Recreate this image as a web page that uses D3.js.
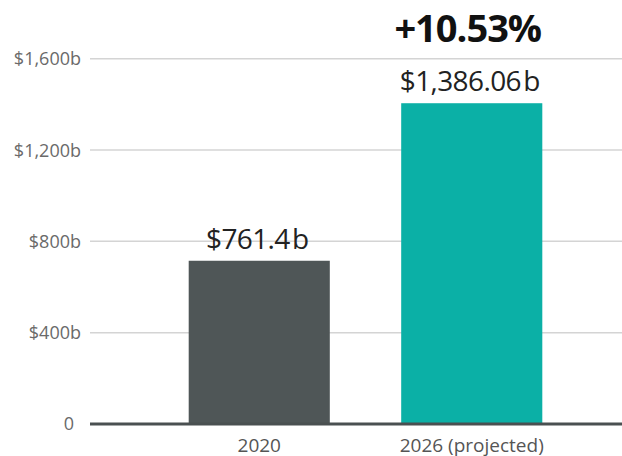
<!DOCTYPE html>
<html>
<head>
<meta charset="utf-8">
<script src="https://cdn.jsdelivr.net/npm/d3@7"></script>
<style>
  body { margin: 0; background: #fff; }
  svg { display: block; font-family: "Open Sans", sans-serif; }
</style>
</head>
<body>
<div id="chart"></div>
<script>
var categories = ["2020", "2026 (projected)"];
var barValues = [715, 1405];
var valueLabels = ["$761.4\u200ab", "$1,386.06\u200ab"];
var barColors = ["#4f5657", "#0bb0a6"];
var yTicks = [0, 400, 800, 1200, 1600];
var yTickLabels = ["0", "$400b", "$800b", "$1,200b", "$1,600b"];
var growthLabel = "+10.53%";

function init() {
    var w = 622;
    var h = 456;

    var svg = d3.select("#chart")
        .append("svg")
        .attr("width", w)
        .attr("height", h);

    var y = d3.scaleLinear()
        .domain([0, 1600])
        .range([424, 58.7]);

    var x = d3.scaleBand()
        .domain(categories)
        .range([153, 578])
        .paddingInner(0.336)
        .paddingOuter(0.168);

    // gridlines
    svg.selectAll("line.grid")
        .data(yTicks.slice(1))
        .enter()
        .append("line")
        .attr("class", "grid")
        .attr("x1", 90)
        .attr("x2", w)
        .attr("y1", function(d) { return y(d); })
        .attr("y2", function(d) { return y(d); })
        .style("stroke", "#d4d4d4")
        .style("stroke-width", 1.5);

    // y tick labels
    svg.selectAll("text.ytick")
        .data(yTicks)
        .enter()
        .append("text")
        .attr("class", "ytick")
        .attr("x", function(d, i) { return i == 0 ? 74 : 81; })
        .attr("y", function(d) { return y(d); })
        .attr("dy", "0.36em")
        .attr("text-anchor", "end")
        .style("font-size", "18px")
        .style("fill", "#6a6a6a")
        .text(function(d, i) { return yTickLabels[i]; });

    // bars
    svg.selectAll("rect")
        .data(barValues)
        .enter()
        .append("rect")
        .attr("x", function(d, i) { return x(categories[i]); })
        .attr("width", x.bandwidth())
        .attr("y", function(d) { return y(d); })
        .attr("height", function(d) { return y(0) - y(d); })
        .style("fill", function(d, i) { return barColors[i]; });

    // baseline
    svg.append("line")
        .attr("x1", 90)
        .attr("x2", w)
        .attr("y1", y(0))
        .attr("y2", y(0))
        .style("stroke", "#4a5051")
        .style("stroke-width", 3);

    // value labels
    svg.selectAll("text.val")
        .data(barValues)
        .enter()
        .append("text")
        .attr("class", "val")
        .attr("x", function(d, i) { return x(categories[i]) + x.bandwidth() / 2 - 2; })
        .attr("y", function(d) { return y(d) - 12; })
        .attr("text-anchor", "middle")
        .style("font-size", "28px")
        .style("letter-spacing", "-0.6px")
        .style("fill", "#222")
        .text(function(d, i) { return valueLabels[i]; });

    // growth label over last bar
    svg.append("text")
        .attr("x", x(categories[1]) + x.bandwidth() / 2 - 4)
        .attr("y", 42)
        .attr("text-anchor", "middle")
        .style("font-size", "38px")
        .style("font-weight", "bold")
        .style("letter-spacing", "-1px")
        .style("fill", "#111")
        .text(growthLabel);

    // x labels
    svg.selectAll("text.xlab")
        .data(categories)
        .enter()
        .append("text")
        .attr("class", "xlab")
        .attr("x", function(d) { return x(d) + x.bandwidth() / 2; })
        .attr("y", 452)
        .attr("text-anchor", "middle")
        .style("font-size", "19px")
        .style("fill", "#555")
        .text(function(d) { return d; });
}

window.onload = init;
</script>
</body>
</html>
